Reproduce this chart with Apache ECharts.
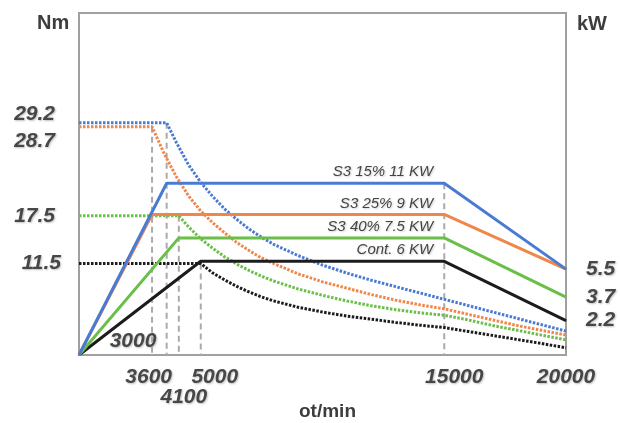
<!DOCTYPE html>
<html>
<head>
<meta charset="utf-8">
<script src="https://cdn.jsdelivr.net/npm/echarts@6.0.0/dist/echarts.min.js"></script>
<style>
    html, body { margin: 0; padding: 0; background: #fff; }
    #chart { width: 620px; height: 423px; }
</style>
</head>
<body>
<div id="chart"></div>
<script>
// tick labels
var rpmTicks = [3600, 5000, 15000, 20000];
var rpmLowerTicks = [4100];
var rpmInsideTicks = [3000];
var torqueTicks = [11.5, 17.5, 28.7, 29.2];
var powerTicks = [2.2, 3.7, 5.5];

var curveNames = ['S3 15% 11 KW', 'S3 25% 9 KW', 'S3 40% 7.5 KW', 'Cont. 6 KW'];

// power (kW) vs rpm
var powerS3_15 = [[0, 0], [3600, 11], [15000, 11], [20000, 5.5]];
var powerS3_25 = [[0, 0], [3000, 9], [15000, 9], [20000, 5.5]];
var powerS3_40 = [[0, 0], [4100, 7.5], [15000, 7.5], [20000, 3.7]];
var powerCont = [[0, 0], [5000, 6], [15000, 6], [20000, 2.2]];

// torque (Nm) vs rpm
var torqueS3_15 = [[0, 29.2], [3600, 29.2], [4000, 26.7], [4500, 23.9], [5000, 21.7], [5500, 19.9], [6000, 18.3],
    [6500, 17.0], [7000, 15.8], [7500, 14.8], [8000, 13.9], [9000, 12.5], [10000, 11.3], [11000, 10.3],
    [12000, 9.4], [13000, 8.6], [14000, 7.8], [15000, 7.0], [16000, 6.2], [17000, 5.4], [18000, 4.6],
    [19000, 3.8], [20000, 3.0]];
var torqueS3_25 = [[0, 28.7], [3000, 28.7], [3500, 25.3], [4000, 22.4], [4500, 20.0], [5000, 18.1], [5500, 16.6],
    [6000, 15.3], [6500, 14.1], [7000, 13.1], [7500, 12.2], [8000, 11.5], [9000, 10.2], [10000, 9.2],
    [11000, 8.4], [12000, 7.6], [13000, 6.9], [14000, 6.3], [15000, 5.8], [16000, 5.1], [17000, 4.4],
    [18000, 3.7], [19000, 3.1], [20000, 2.5]];
var torqueS3_40 = [[0, 17.5], [4100, 17.5], [4500, 16.1], [5000, 14.6], [5500, 13.4], [6000, 12.3], [6500, 11.4],
    [7000, 10.6], [7500, 9.9], [8000, 9.3], [9000, 8.3], [10000, 7.5], [11000, 6.8], [12000, 6.2],
    [13000, 5.7], [14000, 5.3], [15000, 5.0], [16000, 4.4], [17000, 3.7], [18000, 3.1], [19000, 2.5],
    [20000, 1.9]];
var torqueCont = [[0, 11.5], [5000, 11.5], [5500, 10.3], [6000, 9.4], [6500, 8.6], [7000, 7.9], [7500, 7.3],
    [8000, 6.8], [9000, 6.0], [10000, 5.4], [11000, 4.9], [12000, 4.5], [13000, 4.1], [14000, 3.75],
    [15000, 3.45], [16000, 2.95], [17000, 2.45], [18000, 1.95], [19000, 1.45], [20000, 0.9]];

// dashed guides: [rpm, torque Nm] and [rpm, power kW]
var torqueGuides = [[3000, 28.7], [3600, 29.2], [4100, 17.5], [5000, 11.5]];
var powerGuides = [[15000, 11]];

var colors = ['#4a7bd3', '#f0874a', '#6abf48', '#1c1c1c'];

var chart = echarts.init(document.getElementById('chart'));

var tickFont = {
    fontFamily: 'Liberation Sans',
    fontSize: 21,
    fontWeight: 'bold',
    fontStyle: 'italic',
    color: '#474747',
    textShadowColor: 'rgba(0,0,0,0.25)',
    textShadowBlur: 2,
    textShadowOffsetX: 1,
    textShadowOffsetY: 1
};

function withPad(pad) {
    return Object.assign({}, tickFont, {padding: pad});
}

// label nudges, as in the original drawing
var rpmRich = {
    v3600: withPad([0, 36, 0, 0]),
    v5000: withPad([0, 0, 0, 28]),
    v15000: withPad([0, 0, 0, 20]),
    v20000: withPad([0, 0, 0, 0])
};
var torqueRich = {
    v11_5: withPad([0, 0, 0, 0]),
    v17_5: withPad([0, 6, 0, 0]),
    v28_7: withPad([28, 6, 0, 0]),
    v29_2: withPad([0, 6, 18, 0])
};

function richKey(v) {
    return 'v' + String(v).replace('.', '_');
}

function powerSeries(i, pts) {
    var name = curveNames[i];
    return {
        name: name,
        type: 'line',
        yAxisIndex: 1,
        symbol: 'circle',
        symbolSize: 1,
        z: 4 + (3 - i),
        itemStyle: {color: colors[i]},
        lineStyle: {color: colors[i], width: 3},
        data: pts.map(function (p) {
            if (p[0] !== 15000) return p;
            return {
                value: p,
                label: {
                    show: true,
                    position: 'top',
                    align: 'right',
                    distance: 3,
                    offset: [-11, 0],
                    formatter: name,
                    fontFamily: 'Liberation Sans',
                    fontSize: 15,
                    fontStyle: 'italic',
                    color: '#444',
                    textShadowColor: 'rgba(0,0,0,0.2)',
                    textShadowBlur: 2,
                    textShadowOffsetX: 1,
                    textShadowOffsetY: 1
                }
            };
        })
    };
}

function torqueSeries(i, pts) {
    return {
        name: curveNames[i] + ' Nm',
        type: 'line',
        yAxisIndex: 0,
        symbol: 'none',
        z: 3,
        lineStyle: {color: colors[i], width: 3, type: [2.5, 1.5]},
        data: pts
    };
}

function guideSeries(p, axisIdx) {
    return {
        type: 'line',
        yAxisIndex: axisIdx,
        symbol: 'none',
        z: 1,
        lineStyle: {color: '#aaaaaa', width: 2, type: [6, 4]},
        data: [p, [p[0], 0]]
    };
}

// extra x axis with no line, only carrying a few labels
function labelAxis(values, extra) {
    return {
        type: 'value',
        min: 0,
        max: 20000,
        position: 'bottom',
        axisLine: {show: false},
        axisTick: {show: false},
        splitLine: {show: false},
        axisLabel: Object.assign({}, tickFont, {
            customValues: values,
            showMinLabel: true,
            showMaxLabel: true,
            formatter: function (v) { return String(v); }
        }, extra)
    };
}

var series = [];
torqueGuides.forEach(function (p) { series.push(guideSeries(p, 0)); });
powerGuides.forEach(function (p) { series.push(guideSeries(p, 1)); });
[torqueS3_15, torqueS3_25, torqueS3_40, torqueCont].forEach(function (d, i) {
    series.push(torqueSeries(i, d));
});
[powerS3_15, powerS3_25, powerS3_40, powerCont].forEach(function (d, i) {
    series.push(powerSeries(i, d));
});

var option = {
    animation: false,
    grid: {
        left: 79,
        right: 54,
        top: 13,
        bottom: 68,
        outerBoundsMode: 'none',
        containLabel: false,
        show: true,
        borderColor: '#a0a0a0',
        borderWidth: 2
    },
    graphic: [
        {type: 'text', left: 37, top: 13, style: {text: 'Nm', font: 'bold 20px "Liberation Sans"', fill: '#3d3d3d'}},
        {type: 'text', left: 577, top: 14, style: {text: 'kW', font: 'bold 20px "Liberation Sans"', fill: '#3d3d3d'}}
    ],
    xAxis: [
        {
            type: 'value',
            min: 0,
            max: 20000,
            name: 'ot/min',
            nameLocation: 'middle',
            nameGap: 47,
            nameMoveOverlap: false,
            nameTextStyle: {
                fontFamily: 'Liberation Sans',
                fontSize: 19,
                fontWeight: 'bold',
                color: '#3d3d3d',
                verticalAlign: 'top',
                padding: [0, 0, 0, 10]
            },
            axisLine: {show: false},
            axisTick: {show: false},
            splitLine: {show: false},
            axisLabel: {
                customValues: rpmTicks,
                showMinLabel: true,
                showMaxLabel: true,
                hideOverlap: false,
                margin: 12,
                formatter: function (v) { return '{' + richKey(v) + '|' + v + '}'; },
                rich: rpmRich
            }
        },
        labelAxis(rpmLowerTicks, {margin: 32, padding: [0, 0, 0, 10]}),
        labelAxis(rpmInsideTicks, {inside: true, margin: 3, padding: [0, 38, 0, 0]})
    ],
    yAxis: [
        {
            type: 'value',
            min: 0,
            max: 43,
            axisLine: {show: false},
            axisTick: {show: false},
            splitLine: {show: false},
            axisLabel: {
                customValues: torqueTicks,
                showMinLabel: true,
                showMaxLabel: true,
                hideOverlap: false,
                margin: 18,
                formatter: function (v) { return '{' + richKey(v) + '|' + v + '}'; },
                rich: torqueRich
            }
        },
        {
            type: 'value',
            min: 0,
            max: 21.9,
            position: 'right',
            axisLine: {show: false},
            axisTick: {show: false},
            splitLine: {show: false},
            axisLabel: Object.assign({}, tickFont, {
                customValues: powerTicks,
                showMinLabel: true,
                showMaxLabel: true,
                margin: 20
            })
        }
    ],
    series: series
};

chart.setOption(option);
</script>
</body>
</html>
